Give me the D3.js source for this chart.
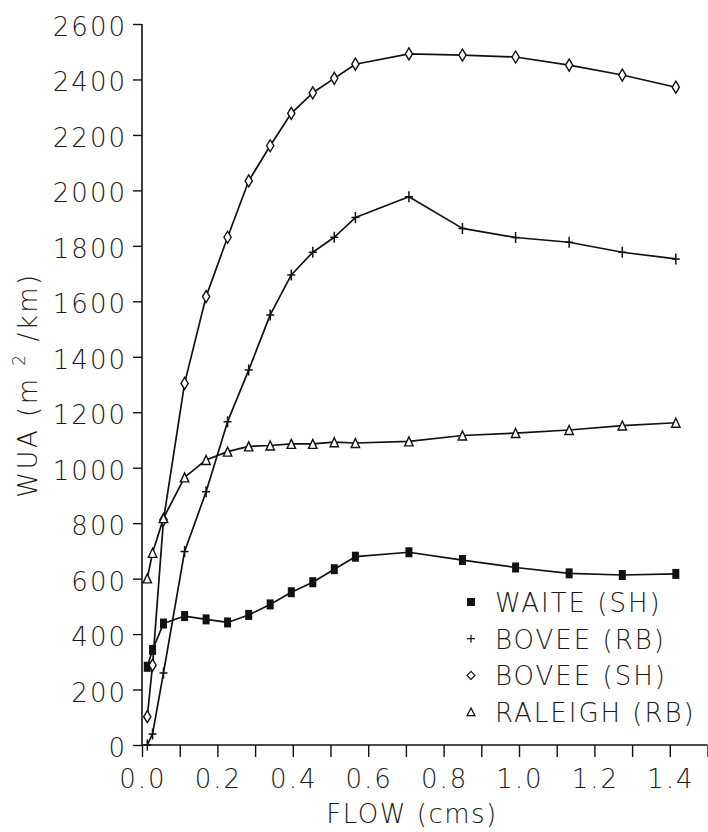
<!DOCTYPE html>
<html>
<head>
<meta charset="utf-8">
<script src="https://cdn.jsdelivr.net/npm/d3@7"></script>
<style>
  html, body { margin: 0; padding: 0; background: #fff; }
  svg { display: block; }
  text { font-family: "DejaVu Sans ExtraLight", "DejaVu Sans", sans-serif; font-weight: 200; fill: #1a1a1a; letter-spacing: 2px; }
</style>
</head>
<body>
<svg id="chart" width="708" height="832"></svg>
<script>
// ---- Data (flow in cms, WUA in m^2/km) ----
const flow = [0.014, 0.028, 0.057, 0.113, 0.170, 0.227, 0.283, 0.340, 0.396, 0.453, 0.510, 0.566, 0.708, 0.850, 0.991, 1.133, 1.274, 1.416];
const waiteSH   = [282, 343, 438, 465, 453, 442, 469, 507, 551, 587, 634, 679, 695, 667, 640, 619, 613, 617];
const boveeRB   = [0, 40, 260, 698, 913, 1166, 1352, 1551, 1695, 1777, 1831, 1902, 1977, 1863, 1830, 1813, 1777, 1753];
const boveeSH   = [102, 288, 812, 1304, 1617, 1831, 2034, 2161, 2278, 2352, 2404, 2455, 2492, 2488, 2481, 2452, 2416, 2372];
const raleighRB = [601, 693, 818, 965, 1028, 1058, 1077, 1080, 1086, 1086, 1092, 1089, 1095, 1116, 1125, 1136, 1152, 1162];

const seriesNames = ["WAITE (SH)", "BOVEE (RB)", "BOVEE (SH)", "RALEIGH (RB)"];
const seriesMarkers = ["square", "plus", "diamond", "triangle"];
const seriesValues = [waiteSH, boveeRB, boveeSH, raleighRB];

const yTicks = [0, 200, 400, 600, 800, 1000, 1200, 1400, 1600, 1800, 2000, 2200, 2400, 2600];
const xTickLabels = [0.0, 0.2, 0.4, 0.6, 0.8, 1.0, 1.2, 1.4];
const xMinorTicks = [0, 0.1, 0.2, 0.3, 0.4, 0.5, 0.6, 0.7, 0.8, 0.9, 1.0, 1.1, 1.2, 1.3, 1.4, 1.5];

// ---- Layout ----
const svg = d3.select("#chart");
const x = d3.scaleLinear().domain([0, 1.5]).range([142, 707.5]);
const y = d3.scaleLinear().domain([0, 2600]).range([745, 24]);

// Axes
const xAxisG = svg.append("g").attr("transform", `translate(0,${y(0)})`)
  .call(d3.axisBottom(x).tickValues(xMinorTicks).tickSize(12).tickFormat(""));
xAxisG.select(".domain").attr("d", `M${x(0)},0H${x(1.5)}`).attr("stroke", "#111").attr("stroke-width", 1.6);
xAxisG.selectAll(".tick line").attr("stroke", "#111").attr("stroke-width", 1.4);

const yAxisG = svg.append("g").attr("transform", `translate(${x(0)},0)`)
  .call(d3.axisLeft(y).tickValues(yTicks).tickSize(9).tickFormat(""));
yAxisG.select(".domain").attr("d", `M0,${y(2600)}V${y(0)}`).attr("stroke", "#111").attr("stroke-width", 1.6);
yAxisG.selectAll(".tick line").attr("stroke", "#111").attr("stroke-width", 1.4);

// Tick labels
svg.append("g").selectAll("text").data(yTicks).join("text")
  .attr("x", 127).attr("y", d => y(d) + 12)
  .attr("text-anchor", "end")
  .attr("font-size", 26)
  .text(d => d);

svg.append("g").selectAll("text").data(xTickLabels).join("text")
  .attr("x", d => x(d) + 1).attr("y", y(0) + 43)
  .attr("text-anchor", "middle")
  .attr("font-size", 26)
  .text(d => d.toFixed(1));

// Axis titles
svg.append("text")
  .attr("x", 412).attr("y", 823)
  .attr("text-anchor", "middle").attr("font-size", 26)
  .style("letter-spacing", "1.5px")
  .text("FLOW (cms)");

const yl = svg.append("text")
  .attr("transform", "translate(37,385) rotate(-90)")
  .attr("text-anchor", "middle").attr("font-size", 26)
  .style("letter-spacing", "2.5px");
yl.append("tspan").text("WUA (m ");
yl.append("tspan").attr("font-size", 17).attr("dy", -12).text("2");
yl.append("tspan").attr("dy", 12).text(" /km)");

// Marker drawing
function drawMarker(g, type, cx, cy, s) {
  if (type === "square") {
    g.append("rect").attr("x", cx - 3.5 * s).attr("y", cy - 5 * s)
      .attr("width", 7 * s).attr("height", 10 * s).attr("fill", "#111");
  } else if (type === "plus") {
    g.append("path").attr("d", `M${cx - 4 * s},${cy}H${cx + 4 * s}M${cx},${cy - 5.5 * s}V${cy + 5.5 * s}`)
      .attr("stroke", "#111").attr("stroke-width", 1.5).attr("fill", "none");
  } else if (type === "diamond") {
    g.append("path").attr("d", `M${cx},${cy - 6 * s}L${cx + 3.6 * s},${cy}L${cx},${cy + 6 * s}L${cx - 3.6 * s},${cy}Z`)
      .attr("stroke", "#111").attr("stroke-width", 1.4).attr("fill", "#fff");
  } else if (type === "triangle") {
    g.append("path").attr("d", `M${cx},${cy - 4.5 * s}L${cx + 4.2 * s},${cy + 4.5 * s}L${cx - 4.2 * s},${cy + 4.5 * s}Z`)
      .attr("stroke", "#111").attr("stroke-width", 1.4).attr("fill", "#fff");
  }
}

const line = d3.line().x(d => x(d[0])).y(d => y(d[1]));

seriesValues.forEach((vals, i) => {
  const pts = flow.map((f, j) => [f, vals[j]]);
  svg.append("path").attr("d", line(pts)).attr("fill", "none")
    .attr("stroke", "#111").attr("stroke-width", 1.7).attr("stroke-linejoin", "round");
});
seriesValues.forEach((vals, i) => {
  const g = svg.append("g");
  flow.forEach((f, j) => drawMarker(g, seriesMarkers[i], x(f), y(vals[j]), 1));
});

// Legend
const legend = svg.append("g");
seriesNames.forEach((name, i) => {
  const cy = 602 + i * 36.7;
  const mk = legend.append("g");
  if (seriesMarkers[i] === "square") {
    mk.append("rect").attr("x", 467).attr("y", cy - 4).attr("width", 8).attr("height", 8).attr("fill", "#111");
  } else if (seriesMarkers[i] === "plus") {
    mk.append("path").attr("d", `M467,${cy}H475M471,${cy - 4}V${cy + 4}`).attr("stroke", "#111").attr("stroke-width", 1.2);
  } else if (seriesMarkers[i] === "diamond") {
    mk.append("path").attr("d", `M471,${cy - 4}L475,${cy}L471,${cy + 4}L467,${cy}Z`).attr("stroke", "#111").attr("stroke-width", 1.2).attr("fill", "#fff");
  } else {
    mk.append("path").attr("d", `M471,${cy - 4}L475,${cy + 3.5}L467,${cy + 3.5}Z`).attr("stroke", "#111").attr("stroke-width", 1.2).attr("fill", "#fff");
  }
  legend.append("text").attr("x", 495).attr("y", cy + 10).attr("font-size", 26).text(name);
});
</script>
</body>
</html>
